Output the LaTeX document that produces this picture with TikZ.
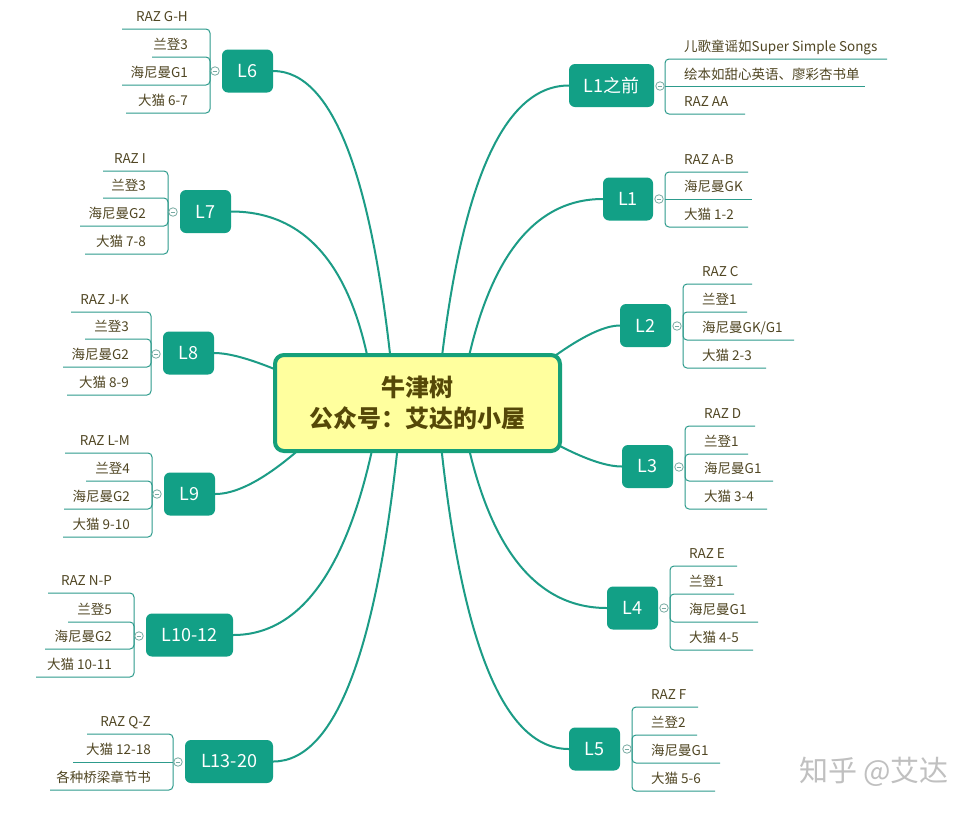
\documentclass[tikz,border=0pt]{standalone}
\usepackage{fontspec}
\setmainfont{Noto Sans CJK SC}
\usetikzlibrary{backgrounds}
\definecolor{brfill}{RGB}{18,160,134}
\definecolor{linec}{RGB}{28,156,134}
\definecolor{leafc}{RGB}{45,155,140}
\definecolor{circc}{RGB}{120,170,162}
\definecolor{rootborder}{RGB}{22,160,122}
\definecolor{rootfill}{RGB}{255,255,158}
\definecolor{roottext}{RGB}{85,72,8}
\definecolor{leaftextc}{RGB}{80,70,35}
\definecolor{wmc}{RGB}{192,192,192}
\tikzset{
  brbox/.style={fill=brfill, rounded corners=6pt, text=white, font=\fontsize{18pt}{20pt}\selectfont, inner sep=0pt, minimum height=43pt},
  rootbox/.style={draw=rootborder, line width=4pt, fill=rootfill, rounded corners=9pt, text=roottext, font=\fontsize{24pt}{31pt}\selectfont\bfseries, align=center, inner sep=0pt, minimum width=285pt, minimum height=96pt},
  leaftext/.style={inner sep=0pt, text=leaftextc, font=\fontsize{13.5pt}{15pt}\selectfont},
  leafline/.style={draw=leafc, line width=1pt, rounded corners=4pt},
  branchline/.style={draw=linec, line width=2pt},
  collapse/.style={circle, draw=circc, fill=white, line width=0.8pt, minimum size=8.5pt, inner sep=0pt,
    path picture={\draw[circc, line width=0.8pt] ([xshift=-2.3pt]path picture bounding box.center) -- ([xshift=2.3pt]path picture bounding box.center);}},
  watermark/.style={text=wmc, font=\fontsize{29pt}{32pt}\selectfont, inner sep=0pt}
}
% right-side leaf: name, bracket x, junction y, underline y, end x, text
\newcommand\rleaf[6]{%
  \coordinate (#1a) at (#2,#3);
  \coordinate (#1b) at (#5,#4);
  \draw[leafline] (#1a) |- (#1b);
  \node[leaftext, anchor=base west] (#1) at (#2+19,#4-7.5) {#6};}
\newcommand\rleafm[6]{%
  \coordinate (#1a) at (#2,#4);
  \coordinate (#1b) at (#5,#4);
  \draw[leafline] (#1a) -- (#1b);
  \node[leaftext, anchor=base west] (#1) at (#2+19,#4-7.5) {#6};}
\newcommand\lleaf[6]{%
  \coordinate (#1a) at (#2,#3);
  \coordinate (#1b) at (#5,#4);
  \draw[leafline] (#1a) |- (#1b);
  \node[leaftext, anchor=base east] (#1) at (#2-22,#4-7.5) {#6};}
\newcommand\lleafm[6]{%
  \coordinate (#1a) at (#2,#4);
  \coordinate (#1b) at (#5,#4);
  \draw[leafline] (#1a) -- (#1b);
  \node[leaftext, anchor=base east] (#1) at (#2-22,#4-7.5) {#6};}
\begin{document}
\begin{tikzpicture}[x=1pt,y=-1pt]
\useasboundingbox (0,0) rectangle (976,812);

% root
\node[rootbox] (root) at (417.5,403) {牛津树\\公众号：艾达的小屋};

% branch boxes
\node[brbox, minimum width=51pt] (L6) at (247.5,71) {L6};
\node[brbox, minimum width=51pt] (L7) at (205.5,211.5) {L7};
\node[brbox, minimum width=51pt] (L8) at (188.5,353) {L8};
\node[brbox, minimum width=51pt] (L9) at (189.5,494) {L9};
\node[brbox, minimum width=87pt] (L10) at (189.5,635) {L10-12};
\node[brbox, minimum width=88pt] (L13) at (229,761.5) {L13-20};
\node[brbox, minimum width=85pt] (L0) at (611.5,85.5) {L1之前};
\node[brbox, minimum width=50pt] (L1) at (628,199) {L1};
\node[brbox, minimum width=51pt] (L2) at (645.5,325.5) {L2};
\node[brbox, minimum width=51pt] (L3) at (647.5,466.5) {L3};
\node[brbox, minimum width=51pt] (L4) at (632.5,608) {L4};
\node[brbox, minimum width=51pt] (L5) at (594.5,749) {L5};

% curve start points (hidden under the root)
\coordinate (s6) at (395,403);
\coordinate (s7) at (375,403);
\coordinate (s8) at (340,400);
\coordinate (s9) at (340,410);
\coordinate (s10) at (381,403);
\coordinate (s13) at (402,403);
\coordinate (s0) at (437,403);
\coordinate (s1) at (460,403);
\coordinate (s2) at (500,400);
\coordinate (s3) at (500,410);
\coordinate (s4) at (460,403);
\coordinate (s5) at (437,403);

\begin{pgfonlayer}{background}
\fill[white] (0,0) rectangle (976,812);
\draw[branchline] (s6) .. controls (375,181.7) and (334.3,71) .. (L6.east);
\draw[branchline] (s7) .. controls (359.7,275.3) and (311.7,211.5) .. (L7.east);
\draw[branchline] (s8) .. controls (280,368.7) and (238,353) .. (L8.east);
\draw[branchline] (s9) .. controls (286.7,466) and (245,494) .. (L9.east);
\draw[branchline] (s10) .. controls (355.7,557.7) and (306.3,635) .. (L10.east);
\draw[branchline] (s13) .. controls (380.7,642) and (337.7,761.5) .. (L13.east);
\draw[branchline] (s0) .. controls (457,191.3) and (501,85.5) .. (L0.west);
\draw[branchline] (s1) .. controls (481.3,267) and (529,199) .. (L1.west);
\draw[branchline] (s2) .. controls (556.7,350.3) and (596.7,325.5) .. (L2.west);
\draw[branchline] (s3) .. controls (556.7,447.7) and (597.3,466.5) .. (L3.west);
\draw[branchline] (s4) .. controls (482,539.7) and (531,608) .. (L4.west);
\draw[branchline] (s5) .. controls (457,633.7) and (501,749) .. (L5.west);
\end{pgfonlayer}

% ---- right side leaves ----
\rleaf{a1}{665}{86}{59}{887}{儿歌童谣如Super Simple Songs}
\rleafm{a2}{665}{86}{86.5}{865}{绘本如甜心英语、廖彩杏书单}
\rleaf{a3}{665}{86}{114}{745}{RAZ AA}
\node[collapse] (c0) at (660,86) {};

\rleaf{b1}{665}{199}{172}{748}{RAZ A-B}
\rleafm{b2}{665}{199}{199}{752}{海尼曼GK}
\rleaf{b3}{665}{199}{227}{748}{大猫 1-2}
\node[collapse] (c1) at (659,199) {};

\rleaf{d1}{683}{326}{284}{752}{RAZ C}
\rleaf{d2}{683}{326}{312}{747}{兰登1}
\rleaf{d3}{683}{326}{340}{794}{海尼曼GK/G1}
\rleaf{d4}{683}{326}{368}{766}{大猫 2-3}
\node[collapse] (c2) at (677,326) {};

\rleaf{e1}{685}{467}{426}{755}{RAZ D}
\rleaf{e2}{685}{467}{454}{748}{兰登1}
\rleaf{e3}{685}{467}{481}{773}{海尼曼G1}
\rleaf{e4}{685}{467}{509}{767}{大猫 3-4}
\node[collapse] (c3) at (679,467) {};

\rleaf{f1}{670}{608}{566}{737}{RAZ E}
\rleaf{f2}{670}{608}{594}{734}{兰登1}
\rleaf{f3}{670}{608}{622}{758}{海尼曼G1}
\rleaf{f4}{670}{608}{650}{753}{大猫 4-5}
\node[collapse] (c4) at (664,608) {};

\rleaf{g1}{632}{749}{707}{698}{RAZ F}
\rleaf{g2}{632}{749}{735}{697}{兰登2}
\rleaf{g3}{632}{749}{763}{720}{海尼曼G1}
\rleaf{g4}{632}{749}{791}{715}{大猫 5-6}
\node[collapse] (c5) at (627,749) {};

% ---- left side leaves ----
\lleaf{h1}{210}{71}{29}{122}{RAZ G-H}
\lleaf{h2}{210}{71}{57}{152}{兰登3}
\lleaf{h3}{210}{71}{85}{122}{海尼曼G1}
\lleaf{h4}{210}{71}{113}{126}{大猫 6-7}
\node[collapse] (c6) at (215,71) {};

\lleaf{i1}{168}{212}{171}{103}{RAZ I}
\lleaf{i2}{168}{212}{198}{103}{兰登3}
\lleaf{i3}{168}{212}{226}{80}{海尼曼G2}
\lleaf{i4}{168}{212}{254}{85}{大猫 7-8}
\node[collapse] (c7) at (173,212) {};

\lleaf{j1}{151}{354}{312}{71}{RAZ J-K}
\lleaf{j2}{151}{354}{339}{85}{兰登3}
\lleaf{j3}{151}{354}{367}{63}{海尼曼G2}
\lleaf{j4}{151}{354}{395}{67}{大猫 8-9}
\node[collapse] (c8) at (156,354) {};

\lleaf{k1}{152}{494}{453}{65}{RAZ L-M}
\lleaf{k2}{152}{494}{481}{86}{兰登4}
\lleaf{k3}{152}{494}{509}{64}{海尼曼G2}
\lleaf{k4}{152}{494}{537}{63}{大猫 9-10}
\node[collapse] (c9) at (157,494) {};

\lleaf{m1}{134}{636}{593}{48}{RAZ N-P}
\lleaf{m2}{134}{636}{622}{68}{兰登5}
\lleaf{m3}{134}{636}{649}{45}{海尼曼G2}
\lleaf{m4}{134}{636}{677}{36}{大猫 10-11}
\node[collapse] (c10) at (139,636) {};

\lleaf{n1}{173}{762}{734}{87}{RAZ Q-Z}
\lleafm{n2}{173}{762}{762}{73}{大猫 12-18}
\lleaf{n3}{173}{762}{790}{50}{各种桥梁章节书}
\node[collapse] (c13) at (178,762) {};

% watermark
\node[watermark] (wm) at (874,772) {知乎 @艾达};
\end{tikzpicture}
\end{document}
